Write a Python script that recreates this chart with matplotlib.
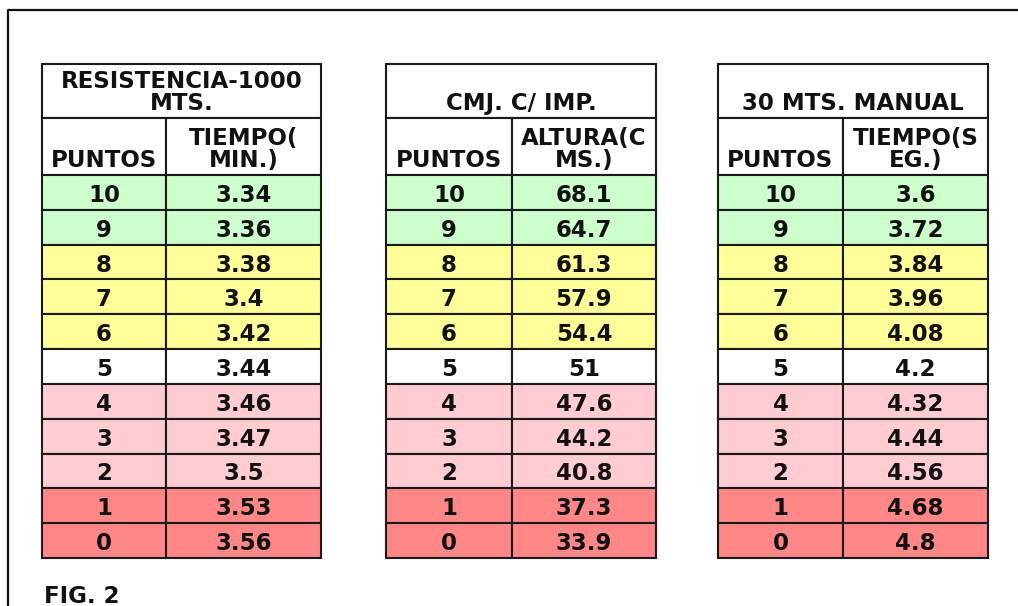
import matplotlib
matplotlib.use('Agg')
import matplotlib.pyplot as plt
from matplotlib.patches import Rectangle

# table data
puntos = ['10', '9', '8', '7', '6', '5', '4', '3', '2', '1', '0']
resistencia = ['3.34', '3.36', '3.38', '3.4', '3.42', '3.44', '3.46', '3.47', '3.5', '3.53', '3.56']
cmj = ['68.1', '64.7', '61.3', '57.9', '54.4', '51', '47.6', '44.2', '40.8', '37.3', '33.9']
manual30 = ['3.6', '3.72', '3.84', '3.96', '4.08', '4.2', '4.32', '4.44', '4.56', '4.68', '4.8']

titles = ['RESISTENCIA-1000\nMTS.', 'CMJ. C/ IMP.', '30 MTS. MANUAL']
col_heads = ['TIEMPO(\nMIN.)', 'ALTURA(C\nMS.)', 'TIEMPO(S\nEG.)']
row_band = ['green', 'green', 'yellow', 'yellow', 'yellow', 'white',
            'pink', 'pink', 'pink', 'red', 'red']

band_colors = {'green': '#ccffcc', 'yellow': '#ffff99', 'white': '#ffffff',
               'pink': '#ffccd4', 'red': '#ff8787'}

W, H = 1018, 606
fig = plt.figure(figsize=(W / 100, H / 100), dpi=100)
ax = fig.add_axes([0, 0, 1, 1])
ax.set_xlim(0, W)
ax.set_ylim(H, 0)
ax.axis('off')

# frame (left and top only visible)
ax.plot([8.5, 8.5, W], [H, 9.5, 9.5], color='#111111', lw=1.6, solid_capstyle='butt')

fs = 16.5
font = dict(fontfamily='DejaVu Sans', fontweight='bold', fontsize=fs, color='#111111')
lc = '#1a1a1a'

tables = [(42, 166, 321, resistencia), (386, 512, 656, cmj), (718, 843, 988, manual30)]
top, h1, h2 = 64, 118, 175
row_h = (558 - h2) / len(puntos)

for i, (x0, xm, x1, vals) in enumerate(tables):
    # header cells
    ax.add_patch(Rectangle((x0, top), x1 - x0, h1 - top, fc='white', ec=lc, lw=1.5))
    ax.add_patch(Rectangle((x0, h1), xm - x0, h2 - h1, fc='white', ec=lc, lw=1.5))
    ax.add_patch(Rectangle((xm, h1), x1 - xm, h2 - h1, fc='white', ec=lc, lw=1.5))
    ax.text((x0 + x1) / 2, h1 - 3, titles[i], ha='center', va='bottom',
            linespacing=0.95, **font)
    ax.text((x0 + xm) / 2, h2 - 3, 'PUNTOS', ha='center', va='bottom', **font)
    ax.text((xm + x1) / 2, h2 - 3, col_heads[i], ha='center', va='bottom',
            linespacing=0.95, **font)
    for r, (p, v) in enumerate(zip(puntos, vals)):
        y = h2 + r * row_h
        c = band_colors[row_band[r]]
        ax.add_patch(Rectangle((x0, y), xm - x0, row_h, fc=c, ec=lc, lw=1.5))
        ax.add_patch(Rectangle((xm, y), x1 - xm, row_h, fc=c, ec=lc, lw=1.5))
        ax.text((x0 + xm) / 2, y + row_h / 2 + 3, p, ha='center', va='center', **font)
        ax.text((xm + x1) / 2, y + row_h / 2 + 3, v, ha='center', va='center', **font)

ax.text(44, 603, 'FIG. 2', ha='left', va='baseline', **font)

fig.savefig('out.png', dpi=100)
